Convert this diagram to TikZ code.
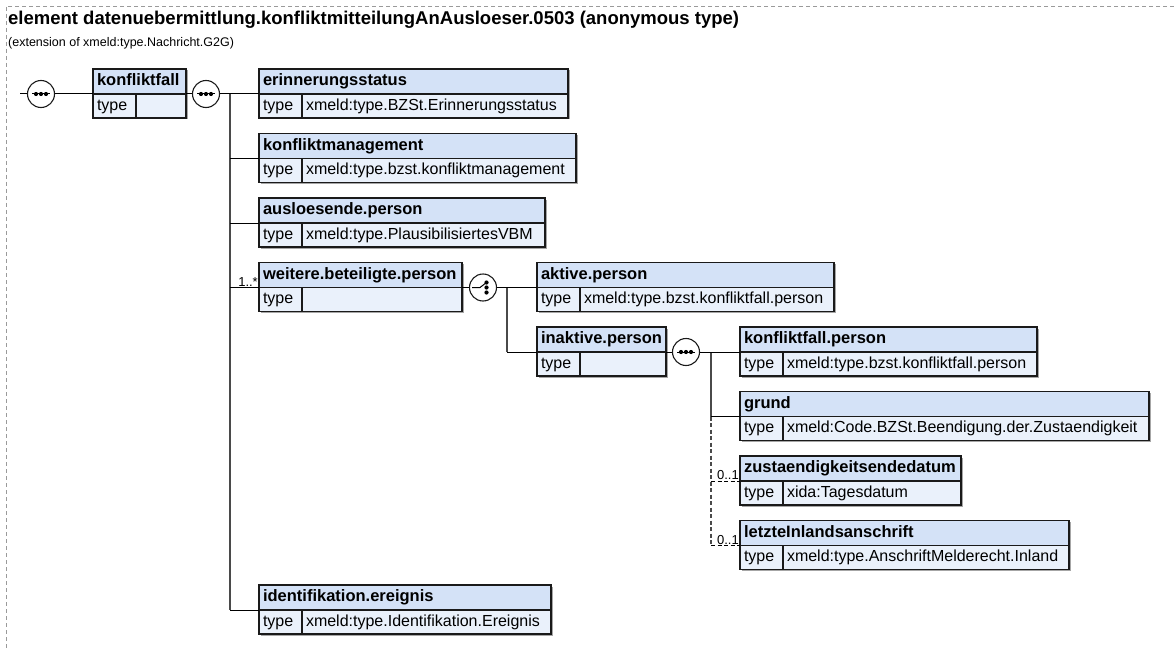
\documentclass[tikz,border=0pt]{standalone}
\usepackage{fontspec}
\setmainfont{Liberation Sans}
\usetikzlibrary{positioning, shadows}
\definecolor{xsdhead}{HTML}{D4E2F7}
\definecolor{xsdtype}{HTML}{EAF1FB}
\definecolor{xsdline}{HTML}{1A1A1A}
\definecolor{xsdtrunk}{HTML}{4A4A4A}
\definecolor{xsdframe}{HTML}{9A9A9A}

% element box: name, position (top left), width, title, type
\newcommand{\xelem}[5]{%
  \pgfmathsetmacro\xhw{#3-8}\pgfmathsetmacro\xvw{#3-51}
  \node[hdr, text width=\xhw, anchor=north west] (#1) at #2 {#4};
  \node[typ, text width=35, anchor=north west] (#1-t) at (#1.south west) {type};
  \node[typ, text width=\xvw, anchor=north west] (#1-v) at (#1-t.north east) {#5};
}

\begin{document}
\begin{tikzpicture}[
    x=1pt, y=-1pt,
    box/.style={draw=xsdline, line width=1.1pt, outer sep=0pt, inner xsep=4pt, inner ysep=0pt,
      align=left, text height=12pt, text depth=3.5pt,
      drop shadow={shadow xshift=1.5pt, shadow yshift=-1.5pt, fill=black!35, opacity=1}},
    hdr/.style={box, fill=xsdhead, minimum height=25pt, font=\fontsize{16.5}{19}\selectfont\bfseries},
    typ/.style={box, fill=xsdtype, minimum height=24pt, font=\fontsize{16}{19}\selectfont},
    icon/.style={circle, draw=xsdline, line width=1.1pt, fill=white, minimum size=27pt, inner sep=0pt},
    seq/.style={icon, path picture={
        \draw[black, line width=1pt] ([xshift=-9pt]path picture bounding box.center) -- ([xshift=9pt]path picture bounding box.center);
        \foreach \d in {-5,0,5} \fill[black] ([xshift=\d pt]path picture bounding box.center) circle (2.1pt);}},
    chc/.style={icon, path picture={
        \draw[black, line width=1pt] ([xshift=-11pt]path picture bounding box.center) -- ([xshift=-3pt]path picture bounding box.center)
          -- ([xshift=3.5pt, yshift=5pt]path picture bounding box.center);
        \foreach \d in {-5,0,5} \fill[black] ([xshift=3.5pt, yshift=\d pt]path picture bounding box.center) circle (2.1pt);}},
    conn/.style={draw=black, line width=1pt},
    trunk/.style={draw=xsdtrunk, line width=1.8pt},
    opt/.style={dash pattern=on 4pt off 2.5pt},
    mult/.style={inner sep=1pt, font=\fontsize{13}{15}\selectfont},
    frame/.style={draw=xsdframe, line width=0.8pt, dash pattern=on 4pt off 3pt},
  ]
  \useasboundingbox (0,0) rectangle (1174,650);
  \draw[frame] (1174,6) -- (6,6) -- (6,650);

  \node[anchor=base west, inner sep=0pt, font=\fontsize{18.5}{22}\selectfont\bfseries] (title) at (8,25)
    {element datenuebermittlung.konfliktmitteilungAnAusloeser.0503 (anonymous type)};
  \node[anchor=base west, inner sep=0pt, font=\fontsize{12.5}{15}\selectfont] (ext) at (8,47)
    {(extension of xmeld:type.Nachricht.G2G)};

  % elements
  \xelem{kfall}{(93,69)}{93}{konfliktfall}{}
  \xelem{erin}{(259,69)}{309}{erinnerungsstatus}{xmeld:type.BZSt.Erinnerungsstatus}
  \xelem{kman}{(259,133.5)}{317}{konfliktmanagement}{xmeld:type.bzst.konfliktmanagement}
  \xelem{ausl}{(259,198)}{286}{ausloesende.person}{xmeld:type.PlausibilisiertesVBM}
  \xelem{weit}{(259,262.5)}{203}{weitere.beteiligte.person}{}
  \xelem{aktiv}{(537,262.5)}{297}{aktive.person}{xmeld:type.bzst.konfliktfall.person}
  \xelem{inakt}{(537,327)}{129}{inaktive.person}{}
  \xelem{kfp}{(740,327)}{297}{konfliktfall.person}{xmeld:type.bzst.konfliktfall.person}
  \xelem{grund}{(740,391.5)}{409}{grund}{xmeld:Code.BZSt.Beendigung.der.Zustaendigkeit}
  \xelem{zust}{(740,456)}{221}{zustaendigkeitsendedatum}{xida:Tagesdatum}
  \xelem{letzt}{(740,520.5)}{329}{letzteInlandsanschrift}{xmeld:type.AnschriftMelderecht.Inland}
  \xelem{ident}{(259,585)}{292}{identifikation.ereignis}{xmeld:type.Identifikation.Ereignis}

  % compositors
  \node[seq] (seqA) at (41,94) {};
  \node[seq] (seqB) at (206,94) {};
  \node[chc] (choice) at (483,287.5) {};
  \node[seq] (seqC) at (686,352) {};

  \coordinate (start) at (20,94);
  \coordinate (trA) at (230,94);
  \coordinate (trB) at (507,287.5);
  \coordinate (trC) at (711,352);

  % connectors
  \draw[conn] (start) -- (seqA.west);
  \draw[conn] (seqA.east) -- (kfall.south west);
  \draw[conn] (kfall.south east) -- (seqB.west);
  \draw[trunk] (trA) -- (trA |- ident.south west);
  \draw[conn] (seqB.east) -- (erin.south west);
  \foreach \n in {kman, ausl, weit, ident}
    \draw[conn] (trA |- \n.south west) -- (\n.south west);
  \node[mult, anchor=south east] (weit-m) at (weit.south west) {1..*};

  \draw[conn] (weit.south east) -- (choice.west);
  \draw[trunk] (trB) -- (trB |- inakt.south west);
  \draw[conn] (choice.east) -- (aktiv.south west);
  \draw[conn] (trB |- inakt.south west) -- (inakt.south west);

  \draw[conn] (inakt.south east) -- (seqC.west);
  \draw[trunk] (trC) -- (trC |- grund.south west);
  \draw[trunk, opt, line width=1.3pt] (trC |- grund.south west) -- (trC |- letzt.south west);
  \draw[conn] (seqC.east) -- (kfp.south west);
  \draw[conn] (trC |- grund.south west) -- (grund.south west);
  \foreach \n in {zust, letzt} {
    \draw[conn, opt] (trC |- \n.south west) -- (\n.south west);
    \node[mult, anchor=south east] (\n-m) at (\n.south west) {0..1};
  }
\end{tikzpicture}
\end{document}
